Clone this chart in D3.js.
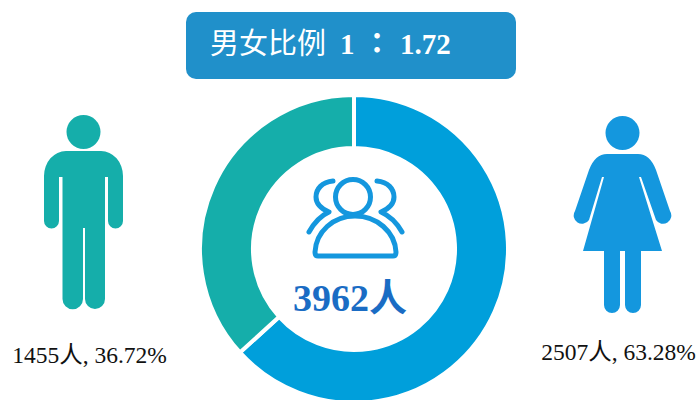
<!DOCTYPE html>
<html>
<head>
<meta charset="utf-8">
<script src="https://d3js.org/d3.v7.min.js"></script>
<style>
  html, body { margin: 0; padding: 0; background: #fff; }
  text { font-family: "Liberation Serif", "Noto Sans CJK SC", serif; }
</style>
</head>
<body>
<div id="chart"></div>
<script>
// DATA
var genders = ['女', '男'];
var counts = [2507, 1455];
var shares = ['63.28%', '36.72%'];
var total = '3962人';
var titleWords = '男女比例';
var titleLeft = '1';
var titleColon = '：';
var titleRight = '1.72';

var width = 699,
    height = 400;

var color = d3.scaleOrdinal().domain(genders).range(['#009fdb', '#15aeaa']);

var svg = d3.select('#chart').append('svg')
    .attr('width', width)
    .attr('height', height)
    .style('display', 'block');

// title box
svg.append('rect')
    .attr('x', 186).attr('y', 12)
    .attr('width', 330).attr('height', 67)
    .attr('rx', 10)
    .attr('fill', '#2090ca');

var title = svg.append('g').attr('fill', '#fff');
title.append('text').attr('x', 210).attr('y', 54).attr('font-size', 29).text(titleWords);
title.append('text').attr('x', 340).attr('y', 54).attr('font-size', 29).attr('font-weight', 'bold').text(titleLeft);
title.append('text').attr('x', 377).attr('y', 54).attr('font-size', 29).attr('font-weight', 'bold')
    .attr('text-anchor', 'middle')
    .style('font-family', '"Noto Sans CJK TC"')
    .text(titleColon);
title.append('text').attr('x', 400).attr('y', 54).attr('font-size', 29).attr('font-weight', 'bold').text(titleRight);

// donut, starts at 12 o'clock and runs clockwise (female first)
// radii allow for the white stroke eating 2px each side
var pie = d3.pie().sort(null).value(function(d) { return d; });
var arc = d3.arc().innerRadius(101).outerRadius(154);

var donut = svg.append('g').attr('transform', 'translate(354,249)');
donut.selectAll('path')
    .data(pie(counts))
    .enter().append('path')
    .attr('d', arc)
    .attr('fill', function(d, i) { return color(genders[i]); })
    .attr('stroke', '#fff')
    .attr('stroke-width', 4);

// group icon in the middle
var people = svg.append('g')
    .attr('fill', 'none')
    .attr('stroke', '#1497de')
    .attr('stroke-width', 5)
    .attr('stroke-linecap', 'round')
    .attr('stroke-linejoin', 'round');
people.append('circle').attr('cx', 353).attr('cy', 197).attr('r', 17.5);
people.append('path').attr('d', 'M318 256 Q315 256 315 252 C316 232 333 216 355 216 C377 216 395 232 396 252 Q396 256 393 256 Z');
people.append('path').attr('d', 'M333 181 C322 182 316 189 316 197 C316 204 322 209 329 212 C320 216 314 223 309 232');
people.append('path').attr('d', 'M377 181 C388 182 394 189 394 197 C394 204 388 209 381 212 C390 216 397 223 402 232');

svg.append('text')
    .attr('x', 350).attr('y', 311)
    .attr('text-anchor', 'middle')
    .attr('font-size', 38)
    .attr('font-weight', 'bold')
    .attr('fill', '#1a6cc4')
    .text(total);

// man
var man = svg.append('g').attr('fill', color('男'));
man.append('circle').attr('cx', 83.5).attr('cy', 132).attr('r', 17);
man.append('path').attr('d', 'M66 151 H101 A22 25 0 0 1 123 176 V221 A7.5 7.5 0 0 1 108 221 V177 H105 V299 A10 10 0 0 1 85 299 V228 H83 V299 A10 10 0 0 1 62.5 299 V177 H59 V221 A7.5 7.5 0 0 1 44 221 V176 A22 25 0 0 1 66 151 Z');

// woman
var woman = svg.append('g').attr('fill', '#1497de');
woman.append('circle').attr('cx', 622.5).attr('cy', 133).attr('r', 17);
woman.append('path').attr('d', 'M607 154 H638 Q650 154 656 170 L670 211 A7.5 7.5 0 0 1 656 220 L641 177 H639 L662 251 H641 V305 A8 8 0 0 1 625 305 V251 H620 V305 A8 8 0 0 1 604 305 V251 H583 L604 177 H602 L589 220 A7.5 7.5 0 0 1 575 211 L589 170 Q595 154 607 154 Z');

// labels
svg.append('text')
    .attr('x', 89.5).attr('y', 363)
    .attr('text-anchor', 'middle')
    .attr('font-size', 23.5)
    .attr('fill', '#111')
    .text(counts[1] + '人, ' + shares[1]);

svg.append('text')
    .attr('x', 618.5).attr('y', 360)
    .attr('text-anchor', 'middle')
    .attr('font-size', 23.5)
    .attr('fill', '#111')
    .text(counts[0] + '人, ' + shares[0]);
</script>
</body>
</html>
